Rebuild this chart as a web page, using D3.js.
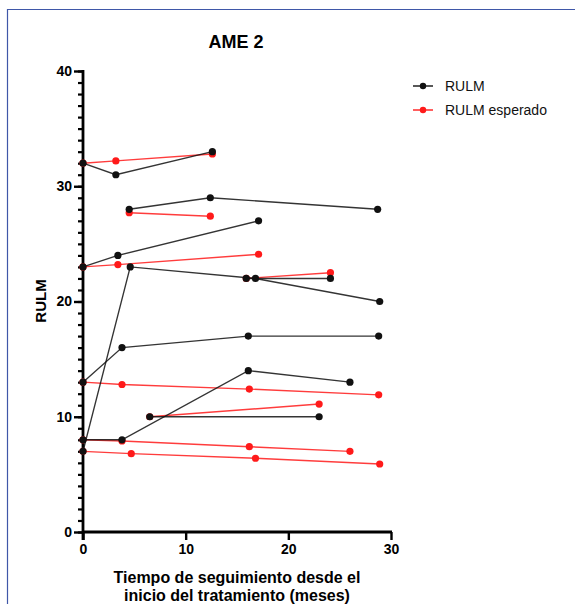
<!DOCTYPE html>
<html>
<head>
<meta charset="utf-8">
<script src="https://cdn.jsdelivr.net/npm/d3@7"></script>
<style>
  body { margin: 0; background: #fff; }
  svg text { font-family: Arial, "Liberation Sans", sans-serif; }
</style>
</head>
<body>
<svg id="chart" width="575" height="604"></svg>
<script>
// one entry per patient: months of follow-up and RULM score
var rulmMonths = [[0, 3.2, 12.6], [4.5, 12.4, 28.7], [0, 3.4, 17.1], [0, 3.8, 16.1, 28.8],
                  [0, 3.8, 16.1, 26], [0, 4.6, 16.8, 28.9], [15.9, 24.1], [6.5, 23]];
var rulmValues = [[32, 31, 33], [28, 29, 28], [23, 24, 27], [13, 16, 17, 17],
                  [8, 8, 14, 13], [7, 23, 22, 20], [22, 22], [10, 10]];

var expMonths = [[0, 3.2, 12.6], [4.5, 12.4], [0, 3.4, 17.1], [0, 3.8, 16.2, 28.8],
                 [0, 3.8, 16.2, 26], [0, 4.7, 16.8, 28.9], [15.9, 24.1], [6.5, 23]];
var expValues = [[32, 32.2, 32.8], [27.7, 27.4], [23, 23.2, 24.1], [13, 12.8, 12.4, 11.9],
                 [8, 7.9, 7.4, 7.0], [7, 6.8, 6.4, 5.9], [22, 22.5], [10, 11.1]];

var xTicks = [0, 10, 20, 30];
var yTicks = [0, 10, 20, 30, 40];
var seriesNames = ["RULM", "RULM esperado"];
var seriesColors = ["#111", "#ff1a1a"];

function plot_chart() {
  var svg = d3.select('#chart');

  // blue frame round the figure
  svg.append("path")
    .attr("d", "M7.5,604 V9.5 H575")
    .attr("fill", "none")
    .attr("stroke", "#3f57a8")
    .attr("stroke-width", 1.2);

  var x = d3.scaleLinear().domain([0, 30]).range([83, 391]);
  var y = d3.scaleLinear().domain([0, 40]).range([532, 71]);

  // y axis: minor ticks every unit, major every 10
  var yMinor = svg.append("g")
    .attr("transform", `translate(${x(0)}, 0)`)
    .call(d3.axisLeft(y).tickValues(d3.range(0, 41)).tickSize(5).tickFormat(""));
  yMinor.select(".domain").remove();
  yMinor.selectAll("line").attr("stroke", "#000").attr("stroke-width", 2.2);

  var yMajor = svg.append("g")
    .attr("transform", `translate(${x(0)}, 0)`)
    .call(d3.axisLeft(y).tickValues(yTicks).tickSize(9).tickPadding(2));
  yMajor.select(".domain").remove();
  yMajor.selectAll("line").attr("stroke", "#000").attr("stroke-width", 2.4);
  yMajor.selectAll("text")
    .attr("font-size", 14).attr("font-weight", "bold").attr("fill", "#000");

  var xAxis = svg.append("g")
    .attr("transform", `translate(0, ${y(0)})`)
    .call(d3.axisBottom(x).tickValues(xTicks).tickSize(8).tickPadding(4));
  xAxis.select(".domain").remove();
  xAxis.selectAll("line").attr("stroke", "#000").attr("stroke-width", 2.4);
  xAxis.selectAll("text")
    .attr("font-size", 14).attr("font-weight", "bold").attr("fill", "#000");

  // axis lines drawn on top
  svg.append("line")
    .attr("x1", x(0)).attr("x2", x(0)).attr("y1", y(40) - 1).attr("y2", y(0) + 8)
    .attr("stroke", "#000").attr("stroke-width", 2.8);
  svg.append("line")
    .attr("x1", x(0)).attr("x2", x(30) + 1).attr("y1", y(0)).attr("y2", y(0))
    .attr("stroke", "#000").attr("stroke-width", 2.8);

  var line = d3.line().x((d) => x(d[0])).y((d) => y(d[1]));

  function drawSeries(months, values, color) {
    months.forEach(function(ms, i) {
      var pts = ms.map((m, j) => [m, values[i][j]]);
      svg.append("path")
        .datum(pts)
        .attr("d", line)
        .attr("fill", "none")
        .attr("stroke", color)
        .attr("stroke-opacity", 0.85)
        .attr("stroke-width", 1.4);
      svg.selectAll(null)
        .data(pts)
        .enter().append("circle")
        .attr("cx", (d) => x(d[0]))
        .attr("cy", (d) => y(d[1]))
        .attr("r", 3.6)
        .attr("fill", color);
    });
  }

  drawSeries(expMonths, expValues, seriesColors[1]);
  drawSeries(rulmMonths, rulmValues, seriesColors[0]);

  // title and axis labels
  svg.append("text")
    .attr("x", 236).attr("y", 48)
    .attr("text-anchor", "middle")
    .attr("font-size", 18).attr("font-weight", "bold")
    .text("AME 2");

  svg.append("text")
    .attr("transform", "translate(46, 301) rotate(-90)")
    .attr("text-anchor", "middle")
    .attr("font-size", 15).attr("font-weight", "bold")
    .text("RULM");

  var xlabel = svg.append("text")
    .attr("text-anchor", "middle")
    .attr("font-size", 16).attr("font-weight", "bold");
  xlabel.append("tspan").attr("x", 237).attr("y", 583).text("Tiempo de seguimiento desde el");
  xlabel.append("tspan").attr("x", 237).attr("y", 601).text("inicio del tratamiento (meses)");

  // legend
  var legend = svg.selectAll(".legend")
    .data(seriesNames)
    .enter().append("g")
    .attr("class", "legend")
    .attr("transform", (d, i) => `translate(413, ${86 + i * 24})`);
  legend.append("line")
    .attr("x1", 0).attr("x2", 20)
    .attr("stroke", (d, i) => seriesColors[i])
    .attr("stroke-width", 1.4);
  legend.append("circle")
    .attr("cx", 10).attr("r", 3.2)
    .attr("fill", (d, i) => seriesColors[i]);
  legend.append("text")
    .attr("x", 32).attr("y", 5)
    .attr("font-size", 14)
    .attr("fill", "#111")
    .text((d) => d);
}

plot_chart();
</script>
</body>
</html>
